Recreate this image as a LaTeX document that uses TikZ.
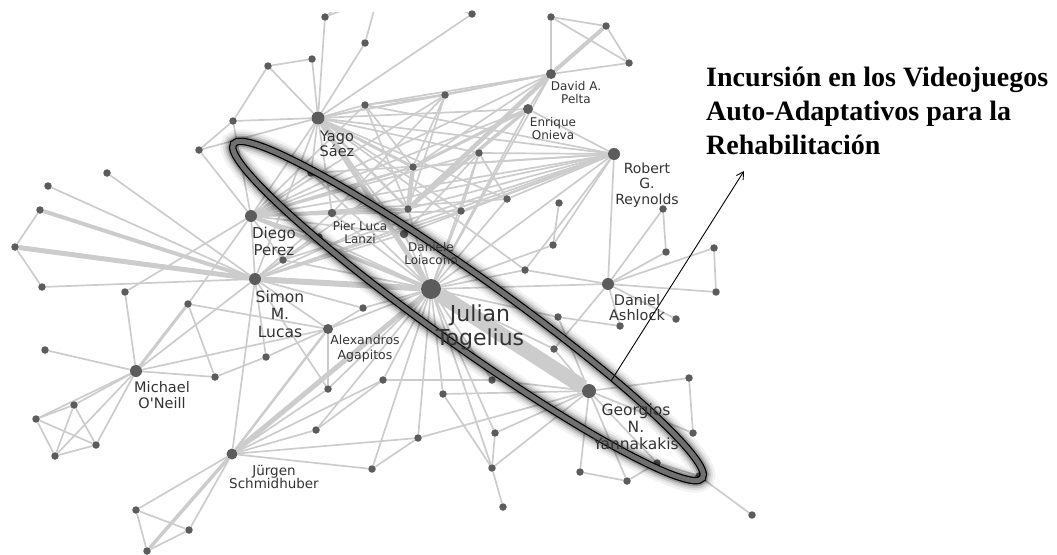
\documentclass[tikz,border=0pt]{standalone}
\usepackage{fontspec}
\setmainfont{DejaVu Sans}[Ligatures=TeXOff]
\newfontfamily\headfont{Liberation Serif}
\usetikzlibrary{arrows.meta,backgrounds}
\definecolor{edgegray}{HTML}{CCCCCC}
\definecolor{dotgray}{HTML}{5C5C5C}
\definecolor{labelgray}{HTML}{333333}
\definecolor{ringgray}{HTML}{707070}

\begin{document}
\begin{tikzpicture}[x=1pt,y=-1pt,
  dot/.style={circle,fill=dotgray,inner sep=0pt,minimum size=7.5pt},
  hub/.style={dot,minimum size=#1},
  edge/.style={draw=edgegray,line width=1.7pt},
  lbl/.style 2 args={text=labelgray,align=center,inner sep=0pt,
    font=\fontsize{#1}{#2}\selectfont},
  headline/.style={anchor=base west,inner sep=0pt,
    font=\headfont\bfseries\fontsize{28}{34}\selectfont}]

\useasboundingbox (0,0) rectangle (1057,554);

% ---------- authors with many collaborations ----------
\node[hub=20pt] (JT) at (431,289) {};
\node[hub=13pt] (YS) at (318,118) {};
\node[hub=12pt] (DP) at (251,216) {};
\node[hub=12pt] (SL) at (255,279) {};
\node[hub=12pt] (MO) at (136,371) {};
\node[hub=11pt] (JS) at (232,454) {};
\node[hub=14pt] (GY) at (589,391) {};
\node[hub=12pt] (DA) at (608,284) {};
\node[hub=12pt] (RR) at (614,154) {};
\node[hub=10pt] (AP) at (551,74) {};
\node[hub=10pt] (EO) at (528,109) {};
\node[hub=10pt] (AA) at (328,329) {};
\node[hub=8.5pt] (PL) at (332,213) {};
\node[hub=8.5pt] (DL) at (404,234) {};

% ---------- other co-authors ----------
\foreach \n/\x/\y in {
  t1/325/17, t2/268/66, t3/312/59, t4/233/121, t5/199/150,
  l1/107/173, l2/48/186, l3/40/210, l4/15/247,
  n1/283/260, e1/311/173, e2/319/237,
  u1/472/14, u2/365/43, u3/551/17, u4/606/26, u5/629/63,
  u6/445/95, u7/365/105, u8/479/153, u9/413/167, u10/507/199,
  u11/408/209, u12/461/211, u13/559/203, u14/553/245,
  r1/663/209, r2/666/252, r3/714/248, r4/716/292, r5/676/319, r6/620/326,
  c1/525/270, c2/558/317, c3/554/349, c4/363/308,
  s1/42/287, s2/125/292, s3/188/304, s4/45/350, s5/266/357, s6/215/377, s7/328/389,
  m1/74/405, m2/36/419, m3/96/445, m4/55/456,
  j1/316/430, j2/136/510, j3/189/530, j4/147/551,
  b1/383/380, b2/492/380, b3/443/394, b4/495/433, b5/418/438,
  b6/372/469, b7/492/468, b8/503/507,
  g1/689/378, g2/693/433, g3/657/463, g4/699/476, g5/580/472,
  g6/627/481, g7/752/515}
  \node[dot] (\n) at (\x,\y) {};

% links that leave the frame at the top
\coordinate (topA) at (352,-4);
\coordinate (topB) at (378,-4);
\coordinate (topC) at (418,-4);

% ---------- collaboration links ----------
\begin{scope}[on background layer]
  \clip (0,12) rectangle (1057,554);
  % strongest ties
  \draw[edge,line width=15pt] (JT) -- (GY);
  \foreach \a/\b/\w in {JT/SL/6, JT/YS/5, JT/JS/5, JT/DP/4, l3/SL/4, l4/SL/5,
      MO/s3/3, JS/j4/3.5, AP/u4/4, AP/u11/4.5, EO/u11/3.5, u9/u11/4.5,
      u11/DP/3, u9/EO/3, YS/u9/3, YS/u11/2.5, u9/DP/2.5, AA/JS/2.5}
    \draw[edge,line width=\w pt] (\a) -- (\b);
  % ordinary ties
  \foreach \a/\b in {
    t4/t2, t4/YS, t4/t5, t4/DP, t2/t3, t2/YS, t3/YS, t1/YS, t5/YS, t5/DP,
    t1/topA, t1/topB, u2/topB, u1/topC,
    l1/SL, l2/SL, l3/l4, l4/s1,
    u1/YS, u2/YS,
    YS/u6, YS/u7, YS/u8, YS/u10, YS/u12, YS/EO, YS/AP, YS/RR, YS/DP,
    YS/PL, YS/DL, YS/SL, YS/e1, YS/c1,
    u7/u9, u7/u11, u7/AP, u7/RR, u7/DP, u7/u6,
    u6/u9, u6/u11, u6/AP, u6/PL, u6/DP,
    u9/AP, u9/RR, u9/SL,
    u11/RR, u11/SL, u11/JT, u11/PL,
    u8/u12, u8/RR, u8/u10, u8/DL, u8/JT, u8/DP,
    u12/RR, u12/JT, u12/DP, u12/SL,
    u10/RR, u10/DP, u10/JT,
    u13/u14, u14/RR, u14/JT,
    c1/RR, c1/JT, c1/DA,
    PL/DP, PL/SL, PL/RR, PL/JT,
    DL/DP, DL/RR, DL/SL, DL/JT,
    n1/DP, n1/SL, n1/JT, n1/RR,
    DP/SL, DP/RR, DP/AP, DP/EO, DP/e2,
    e1/RR, e1/JT, e1/DP, e2/JT, e2/SL,
    EO/RR, EO/JT, EO/AP,
    AP/u3, AP/u5, u3/u4, u4/u5, u3/u5, AP/JT,
    SL/s1, SL/c4, SL/AA, SL/MO, SL/s5, SL/JS, SL/s7, SL/RR,
    c4/JT, c4/AA,
    s2/MO, s2/DP, s3/DP, s3/AA, s3/s6, s4/MO, MO/s6, MO/AA, s6/s5, s5/AA,
    MO/m1, MO/m2, MO/m3, MO/m4, m1/m2, m1/m4, m1/m3, m2/m3, m2/m4, m3/m4,
    AA/s7, AA/JT,
    JS/j1, JS/b6, JS/b5, JS/s7, JS/b1, JS/j2, JS/j3, j2/j3, j2/j4, j3/j4, j1/b1,
    JT/s7, JT/b1, JT/b3, JT/b2, JT/b4, JT/b5, JT/b7, JT/b6, JT/j1,
    JT/DA, JT/c2, JT/c3, JT/RR,
    b3/GY, b3/b7, b5/GY, b6/b5, b7/b8, b7/GY, b4/GY, b2/GY, b1/b2, b4/b7,
    GY/g1, GY/g5, GY/g6, GY/g3, GY/c3, GY/c2, GY/g2, g1/g2, g5/g6, g6/g3,
    g3/g4, g4/g7,
    DA/RR, DA/r1, DA/r2, DA/r3, DA/r4, DA/r5, DA/r6, DA/c3, r1/r2, r3/r4,
    r6/c2}
    \draw[edge] (\a) -- (\b);
\end{scope}

% ---------- highlighted research line ----------
\coordinate (ringc) at (468,311);
\begin{scope}[rotate around={-35.5:(ringc)}]
  \foreach \w/\o in {24/0.05,19/0.08,15/0.12,11/0.22}
    \draw[black,opacity=\o,line width=\w pt] (ringc) ellipse [x radius=288pt,y radius=35pt];
  \draw[black,line width=7.5pt] (ringc) ellipse [x radius=288pt,y radius=35pt];
  \draw[ringgray,line width=5pt] (ringc) ellipse [x radius=288pt,y radius=35pt];
\end{scope}

% ---------- author names ----------
\node[lbl={14.5}{15}] (YSname) at (337,144) {Yago\\Sáez};
\node[lbl={15}{17}] (DPname) at (274,241) {Diego\\Perez};
\node[lbl={12}{13}] (PLname) at (360,233) {Pier Luca\\Lanzi};
\node[lbl={12}{13}] (DLname) at (431,254) {Daniele\\Loiacono};
\node[lbl={22}{24}] (JTname) at (480,327) {Julian\\Togelius};
\node[lbl={15.5}{17.5}] (SLname) at (280,314) {Simon\\M.\\Lucas};
\node[lbl={12.5}{15}] (AAname) at (365,349) {Alexandros\\Agapitos};
\node[lbl={14.5}{16}] (MOname) at (162,395) {Michael\\O'Neill};
\node[lbl={13.5}{13.5}] (JSname) at (274,477) {Jürgen\\Schmidhuber};
\node[lbl={15.5}{17}] (GYname) at (636,427) {Georgios\\N.\\Yannakakis};
\node[lbl={14.5}{15}] (DAname) at (637,308) {Daniel\\Ashlock};
\node[lbl={14}{15.5}] (RRname) at (647,185) {Robert\\G.\\Reynolds};
\node[lbl={12}{13}] (APname) at (576,93) {David A.\\Pelta};
\node[lbl={12}{13}] (EOname) at (553,129) {Enrique\\Onieva};

% ---------- callout ----------
\coordinate (arrowfoot) at (611,381);
\coordinate (arrowtip) at (744,171);
\draw[line width=0.9pt,-{Straight Barb[length=7pt,width=8pt]}] (arrowfoot) -- (arrowtip);
\node[headline] (head1) at (706,86) {Incursión en los Videojuegos};
\node[headline] (head2) at (706,120) {Auto-Adaptativos para la};
\node[headline] (head3) at (706,154) {Rehabilitación};
\end{tikzpicture}
\end{document}
